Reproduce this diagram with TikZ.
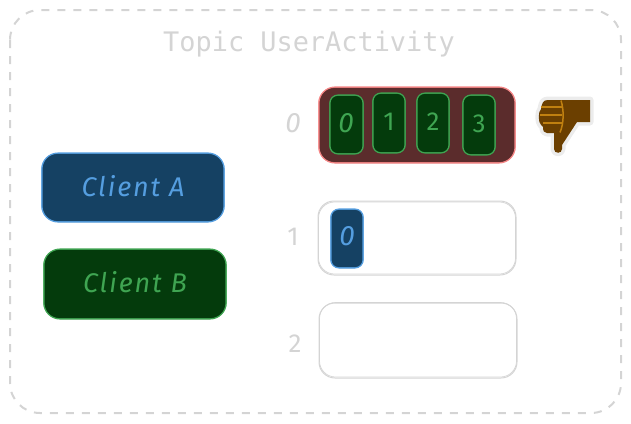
\documentclass[tikz,border=0pt]{standalone}
\usepackage{fontspec}
\setmainfont{Fira Sans}
\newfontfamily\hand[LetterSpace=7]{Fira Sans}
\newfontfamily\handdigit{Fira Sans}
\setmonofont{DejaVu Sans Mono}
\definecolor{ghost}{HTML}{D4D4D4}
\definecolor{blueFill}{HTML}{154163}
\definecolor{blueLine}{HTML}{559EE0}
\definecolor{greenFill}{HTML}{043B0C}
\definecolor{greenLine}{HTML}{3FA552}
\definecolor{redFill}{HTML}{5B2C2C}
\definecolor{redLine}{HTML}{F58585}
\definecolor{thumbDark}{HTML}{6B3F00}
\definecolor{thumbLight}{HTML}{C08010}
\definecolor{halo}{HTML}{ECECEC}
\tikzset{
  x=1pt,y=-1pt,
  lbl/.style={inner sep=0pt,font=\hand\itshape\fontsize{27}{27}\selectfont},
  slant/.style={inner sep=0pt,font=\handdigit\itshape\fontsize{28}{28}\selectfont},
  digit/.style={inner sep=0pt,font=\handdigit\fontsize{26}{26}\selectfont},
  title/.style={inner sep=0pt,text=ghost,font=\ttfamily\fontsize{26.9}{27}\selectfont},
}
% x1 y1 x2 y2 radius line fill : sketchy rectangle, two slightly offset strokes
\newcommand{\sketchbox}[7]{%
  \fill[#7,rounded corners=#5pt] (#1,#2) rectangle (#3,#4);
  \draw[#6,line width=1.1pt,rounded corners=#5pt] (#1,#2) rectangle (#3,#4);
  \draw[#6,line width=.8pt,opacity=.7,rounded corners=#5pt] (#1-.6,#2+.5) rectangle (#3+.5,#4-.5);
}
\begin{document}
\begin{tikzpicture}
\useasboundingbox (0,0) rectangle (631,423);
% outer frame
\draw[ghost,line width=2pt,dash pattern=on 8pt off 8pt,rounded corners=30pt] (10,10) rectangle (621,413);
\node[title] (titleText) at (309,44.5) {Topic UserActivity};
% clients
\sketchbox{42}{153}{224}{222}{16}{blueLine}{blueFill}
\node[lbl,text=blueLine] (clientA) at (133,186) {Client A};
\sketchbox{44}{249}{226}{319}{16}{greenLine}{greenFill}
\node[lbl,text=greenLine] (clientB) at (135,282) {Client B};
% partition numbers
\node[slant,text=ghost] (p0) at (293,123) {0};
\node[digit,text=ghost] (p1) at (293,237) {1};
\node[digit,text=ghost] (p2) at (295,344) {2};
% partition 0
\sketchbox{319}{87}{515}{163}{16}{redLine}{redFill}
\sketchbox{330}{95}{363}{154}{8}{greenLine}{greenFill}
\sketchbox{373}{93}{405}{153}{8}{greenLine}{greenFill}
\sketchbox{417}{93}{449}{153}{8}{greenLine}{greenFill}
\sketchbox{463}{95}{495}{155}{8}{greenLine}{greenFill}
\node[slant,text=greenLine] (m0) at (346,123) {0};
\node[digit,text=greenLine] (m1) at (389,122) {1};
\node[digit,text=greenLine] (m2) at (433,122) {2};
\node[digit,text=greenLine] (m3) at (479,124) {3};
% partition 1
\draw[ghost,line width=1pt,rounded corners=16pt] (318,201) rectangle (516,275);
\draw[ghost,line width=.7pt,rounded corners=16pt] (318.5,202) rectangle (515.5,274);
\sketchbox{331}{209}{363}{268}{8}{blueLine}{blueFill}
\node[slant,text=blueLine] (n0) at (347,236) {0};
% partition 2
\draw[ghost,line width=1pt,rounded corners=16pt] (319,303) rectangle (517,378);
\draw[ghost,line width=.7pt,rounded corners=16pt] (319.5,302.5) rectangle (516.5,377);
% thumbs-down
\begin{scope}
  \def\thumb{(563,100) -- (590,100) -- (590,122) -- (577,122) -- (562,145) -- (562,149)
     .. controls (562,154) and (554,154) .. (554,149) -- (554,133) -- (547,133)
     .. controls (544,133) and (543,131) .. (543,127) -- (541,125)
     .. controls (538,122) and (538,112) .. (541,109)
     .. controls (542,103) and (543,100) .. (548,100) -- cycle}
  \draw[halo,fill=halo,line width=7pt,line join=round] \thumb;
  \fill[thumbDark] \thumb;
  \draw[thumbLight,line width=1.5pt] (541,107) -- (562,107) (540,115) -- (562,115) (543,123) -- (562,123);
  \draw[thumbLight,line width=1.5pt] (561,100.5) .. controls (564,110) and (564,123) .. (560,132.5);
\end{scope}
\end{tikzpicture}
\end{document}
